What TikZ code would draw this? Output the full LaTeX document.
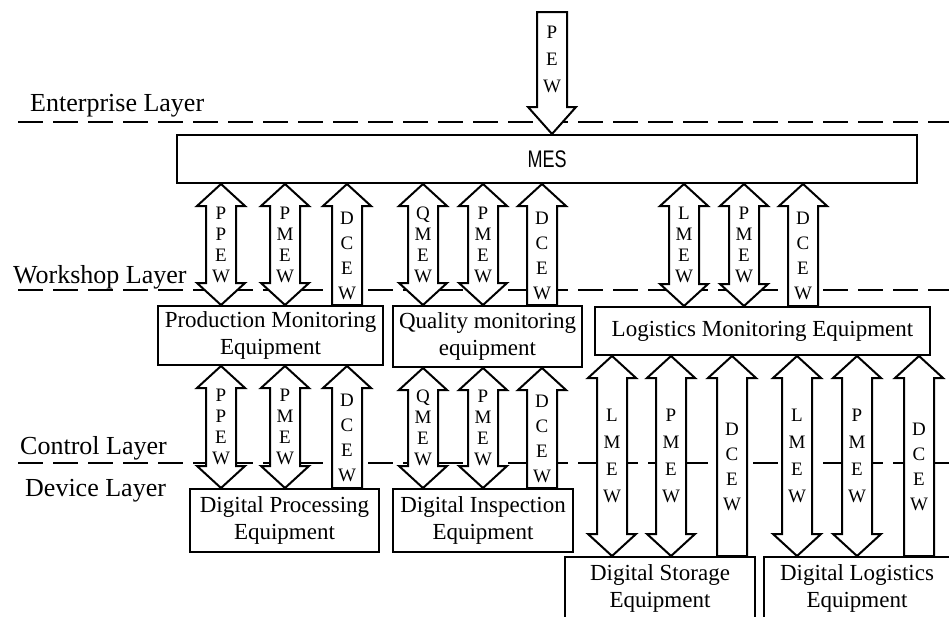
\documentclass[tikz,border=0pt]{standalone}
\usepackage{fontspec}
\usepackage{graphicx}
\setmainfont{Liberation Serif}
\newfontfamily\messans{Liberation Sans}
\usetikzlibrary{calc}
\tikzset{
  box/.style ={rectangle, draw, line width=2pt, fill=white, align=center, inner sep=0pt, font=\fontsize{23}{27}\selectfont},
  lay/.style ={anchor=base west, inner sep=0pt, font=\fontsize{26}{30}\selectfont},
  sep/.style ={line width=2pt, dash pattern=on 25pt off 10pt},
  barr/.style={draw, line width=2pt, fill=white, line join=miter},
  ltr/.style ={align=center, inner sep=0pt, font=\fontsize{19}{21}\selectfont},
}
% two-headed block arrow: [spacing]{x}{upper}{lower}{letters}
\newcommand\twoway[5][21]{%
  \path[barr] let \p1=(#3.south), \p2=(#4.north) in
    (#2pt,\y1) -- ++(24,22) -- ++(-9,0) -- ({#2pt+15pt},{\y2+22pt}) -- ++(9,0) -- (#2pt,\y2)
    -- ++(-24,-22) -- ++(9,0) -- ({#2pt-15pt},{\y1-22pt}) -- ++(-9,0) -- cycle
    ({#2pt},{(\y1+\y2)/2}) node[ltr, font=\fontsize{19}{#1}\selectfont] {#5};}
% upward block arrow
\newcommand\upway[5][25]{%
  \path[barr] let \p1=(#3.south), \p2=(#4.north) in
    (#2pt,\y1) -- ++(24,22) -- ++(-9,0) -- ({#2pt+15pt},\y2) -- ({#2pt-15pt},\y2)
    -- ({#2pt-15pt},{\y1-22pt}) -- ++(-9,0) -- cycle
    ({#2pt},{(\y1-22pt+\y2)/2}) node[ltr, font=\fontsize{19}{#1}\selectfont] {#5};}

\begin{document}
\begin{tikzpicture}[x=1pt, y=-1pt]
  \clip (0,0) rectangle (949,616);
  \fill[white] (0,0) rectangle (949,616);

  \node[lay] (ent) at (30,111) {Enterprise Layer};
  \node[lay] (wsh) at (13,283) {Workshop Layer};
  \node[lay] (ctl) at (20,454) {Control Layer};
  \node[lay] (dev) at (25,496) {Device Layer};
  \draw[sep] (18,122) -- (949,122);
  \draw[sep] (18,290) -- (949,290);
  \draw[sep] (18,463) -- (949,463);

  \node[box, minimum width=740pt, minimum height=48pt, font=\messans\fontsize{24}{28}\selectfont] (mes) at (547,159) {\scalebox{0.75}[1]{MES}};
  \node[box, minimum width=225pt, minimum height=59pt] (pme) at (270.5,335.5) {Production Monitoring\\Equipment};
  \node[box, minimum width=189pt, minimum height=61pt] (qme) at (487.5,336.5) {Quality monitoring\\equipment};
  \node[box, minimum width=335pt, minimum height=48pt] (lme) at (762.5,331) {Logistics Monitoring Equipment};
  \node[box, minimum width=189pt, minimum height=63pt] (dpe) at (284.5,520.5) {Digital Processing\\Equipment};
  \node[box, minimum width=180pt, minimum height=63pt] (die) at (483,520.5) {Digital Inspection\\Equipment};
  \node[box, minimum width=190pt, minimum height=63pt] (dse) at (660,588.5) {Digital Storage\\Equipment};
  \node[box, minimum width=186pt, minimum height=63pt] (dle) at (857,588.5) {Digital Logistics\\Equipment};

  \coordinate (pewtop) at (552,12);
  \path[barr] let \p1=(pewtop), \p2=(mes.north) in
    ({\x1-15pt},\y1) -- ({\x1+15pt},\y1) -- ({\x1+15pt},{\y2+27pt}) -- ++(9,0) -- (\x1,\y2)
    -- ++(-24,-27) -- ++(9,0) -- cycle
    (\x1,{(\y1+\y2+27pt)/2}) node[ltr, font=\fontsize{19}{27}\selectfont] {P\\E\\W};

  \twoway{221}{mes}{pme}{P\\P\\E\\W}
  \twoway{285}{mes}{pme}{P\\M\\E\\W}
  \upway{347}{mes}{pme}{D\\C\\E\\W}
  \twoway{423}{mes}{qme}{Q\\M\\E\\W}
  \twoway{483}{mes}{qme}{P\\M\\E\\W}
  \upway{542}{mes}{qme}{D\\C\\E\\W}
  \twoway{684}{mes}{lme}{L\\M\\E\\W}
  \twoway{744}{mes}{lme}{P\\M\\E\\W}
  \upway{803}{mes}{lme}{D\\C\\E\\W}

  \twoway{221}{pme}{dpe}{P\\P\\E\\W}
  \twoway{285}{pme}{dpe}{P\\M\\E\\W}
  \upway{347}{pme}{dpe}{D\\C\\E\\W}
  \twoway{423}{qme}{die}{Q\\M\\E\\W}
  \twoway{483}{qme}{die}{P\\M\\E\\W}
  \upway{542}{qme}{die}{D\\C\\E\\W}
  \twoway[27]{612}{lme}{dse}{L\\M\\E\\W}
  \twoway[27]{671}{lme}{dse}{P\\M\\E\\W}
  \upway{732}{lme}{dse}{D\\C\\E\\W}
  \twoway[27]{797}{lme}{dle}{L\\M\\E\\W}
  \twoway[27]{857}{lme}{dle}{P\\M\\E\\W}
  \upway{919}{lme}{dle}{D\\C\\E\\W}
\end{tikzpicture}
\end{document}
